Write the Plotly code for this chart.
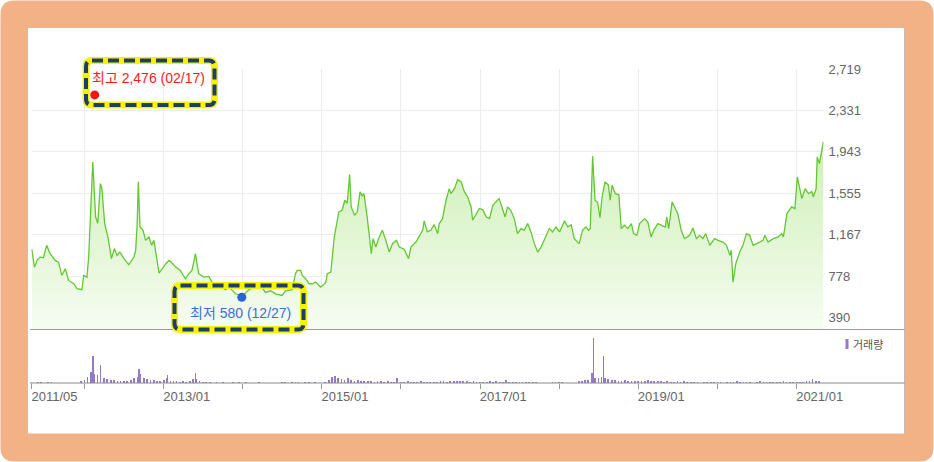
import plotly.graph_objects as go
import pandas as pd

W, H = 934, 462

# ---------------- data ----------------
price_dates = [
    "2011-05-02", "2011-05-15", "2011-05-28", "2011-06-10", "2011-06-25", "2011-07-10", "2011-07-25",
    "2011-08-18", "2011-09-03", "2011-09-18", "2011-10-04", "2011-10-19", "2011-11-12", "2011-11-27",
    "2011-12-20", "2011-12-28", "2012-01-12", "2012-01-20", "2012-02-08", "2012-02-21", "2012-03-02",
    "2012-03-14", "2012-03-21", "2012-04-03", "2012-04-18", "2012-05-04", "2012-05-18", "2012-05-30",
    "2012-06-12", "2012-07-01", "2012-07-23", "2012-08-16", "2012-08-24", "2012-08-31", "2012-09-05",
    "2012-09-13", "2012-09-27", "2012-10-09", "2012-10-24", "2012-11-06", "2012-11-16", "2012-11-24",
    "2012-12-10", "2013-01-10", "2013-01-25", "2013-02-08", "2013-02-25", "2013-03-18", "2013-04-11",
    "2013-04-26", "2013-05-11", "2013-05-27", "2013-06-11", "2013-07-04", "2013-07-27", "2013-08-12",
    "2013-09-12", "2013-10-13", "2013-10-28", "2013-11-13", "2013-11-28", "2013-12-21", "2013-12-28",
    "2014-01-29", "2014-02-14", "2014-03-05", "2014-03-30", "2014-04-15", "2014-05-10", "2014-06-01",
    "2014-07-01", "2014-07-17", "2014-08-16", "2014-09-01", "2014-09-09", "2014-09-25", "2014-10-02",
    "2014-10-18", "2014-11-03", "2014-11-18", "2014-12-03", "2014-12-19", "2014-12-26", "2015-01-11",
    "2015-01-19", "2015-01-26", "2015-02-11", "2015-02-27", "2015-03-20", "2015-04-04", "2015-04-17",
    "2015-04-28", "2015-05-09", "2015-05-16", "2015-06-01", "2015-06-13", "2015-06-26", "2015-07-06",
    "2015-07-14", "2015-07-29", "2015-08-06", "2015-08-17", "2015-08-25", "2015-09-07", "2015-09-19",
    "2015-10-07", "2015-10-23", "2015-11-08", "2015-11-23", "2015-12-11", "2015-12-24", "2016-01-16",
    "2016-02-05", "2016-02-16", "2016-03-10", "2016-03-25", "2016-04-10", "2016-04-17", "2016-05-02",
    "2016-05-18", "2016-06-02", "2016-06-18", "2016-06-26", "2016-07-11", "2016-07-27", "2016-08-11",
    "2016-08-19", "2016-09-04", "2016-09-19", "2016-10-05", "2016-10-20", "2016-11-04", "2016-11-20",
    "2016-11-27", "2016-12-13", "2016-12-28", "2017-01-13", "2017-01-29", "2017-02-13", "2017-02-28",
    "2017-03-14", "2017-03-29", "2017-04-11", "2017-04-26", "2017-05-07", "2017-05-22", "2017-06-07",
    "2017-06-22", "2017-07-08", "2017-07-23", "2017-08-08", "2017-08-23", "2017-09-08", "2017-09-23",
    "2017-10-09", "2017-11-01", "2017-11-16", "2017-12-01", "2017-12-17", "2018-01-02", "2018-01-25",
    "2018-02-09", "2018-02-25", "2018-03-11", "2018-04-03", "2018-04-18", "2018-05-04", "2018-05-16",
    "2018-05-24", "2018-06-04", "2018-06-15", "2018-06-27", "2018-07-08", "2018-07-17", "2018-07-31",
    "2018-08-16", "2018-08-24", "2018-09-02", "2018-09-17", "2018-10-03", "2018-10-14", "2018-10-29",
    "2018-11-14", "2018-11-30", "2018-12-10", "2018-12-25", "2019-01-07", "2019-01-30", "2019-02-14",
    "2019-03-01", "2019-03-13", "2019-04-01", "2019-04-16", "2019-05-06", "2019-05-12", "2019-05-21",
    "2019-06-06", "2019-06-25", "2019-07-02", "2019-07-18", "2019-08-02", "2019-08-26", "2019-09-10",
    "2019-09-26", "2019-10-11", "2019-10-26", "2019-11-08", "2019-11-27", "2019-12-19", "2020-01-04",
    "2020-01-27", "2020-02-12", "2020-02-28", "2020-03-05", "2020-03-13", "2020-03-26", "2020-04-13",
    "2020-04-28", "2020-05-14", "2020-05-29", "2020-06-14", "2020-06-30", "2020-07-15", "2020-07-30",
    "2020-08-07", "2020-08-22", "2020-09-15", "2020-10-08", "2020-10-24", "2020-11-01", "2020-11-17",
    "2020-12-09", "2020-12-24", "2021-01-04", "2021-01-25", "2021-02-09", "2021-02-25", "2021-03-12",
    "2021-03-19", "2021-04-01", "2021-04-06", "2021-04-16", "2021-05-04",
]
price_values = [
    1030, 862, 930, 956, 950, 1066, 991,
    925, 909, 784, 847, 737, 706, 660,
    650, 784, 768, 956, 1848, 1332, 1273,
    1645, 1598, 1270, 1144, 941, 1035, 972,
    1003, 941, 885, 956, 1019, 1270, 1661,
    1238, 1207, 1113, 1144, 1066, 1113, 1019,
    806, 894, 925, 900, 862, 831, 753,
    800, 831, 988, 800, 768, 775, 721,
    690, 650, 675, 644, 612, 596, 590,
    650, 670, 690, 675, 625, 640, 612,
    596, 640, 650, 800, 831, 831, 784,
    753, 706, 706, 721, 690, 675, 700,
    721, 800, 816, 1144, 1380, 1395, 1489,
    1460, 1730, 1426, 1348, 1380, 1567, 1530,
    1551, 1332, 1207, 988, 1129, 1050, 1129,
    1207, 1113, 1003, 1082, 1113, 1050, 1030,
    941, 1050, 1097, 1151, 1207, 1295, 1192,
    1207, 1261, 1176, 1270, 1317, 1489, 1598,
    1550, 1598, 1683, 1660, 1567, 1520, 1426,
    1301, 1364, 1411, 1400, 1332, 1317, 1442,
    1473, 1504, 1426, 1332, 1426, 1395, 1317,
    1176, 1223, 1207, 1270, 1192, 1082, 1003,
    1050, 1160, 1223, 1192, 1238, 1192, 1295,
    1240, 1260, 1129, 1082, 1207, 1238, 1207,
    1225, 1902, 1489, 1470, 1326, 1510, 1661,
    1630, 1489, 1630, 1551, 1540, 1223, 1255,
    1223, 1270, 1176, 1160, 1270, 1317, 1285,
    1144, 1207, 1270, 1255, 1238, 1332, 1223,
    1473, 1395, 1364, 1207, 1129, 1160, 1229,
    1129, 1160, 1129, 1176, 1066, 1129, 1113,
    1097, 1066, 972, 1020, 721, 894, 1003,
    1066, 1176, 1160, 1066, 1082, 1097, 1113,
    1160, 1097, 1129, 1145, 1176, 1145, 1364,
    1426, 1410, 1707, 1504, 1598, 1550, 1570,
    1520, 1598, 1894, 1833, 2036,
]

# trading volume, semi-monthly (1st / 15th) from 2011/05 to 2021/04 (relative units)
vol_start = "2011-05-01"
vol_values = [
    1, 0, 1, 1, 0, 1, 1, 0, 0, 0, 0, 0, 0, 0, 0, 2,                                   # 2011 May-Dec
    3, 6, 11, 9, 8, 10, 5, 4, 3, 3, 2, 2, 2, 2, 3, 5, 6, 9, 5, 4, 3, 3, 2, 2,         # 2012
    3, 5, 2, 2, 2, 1, 2, 1, 2, 4, 4, 2, 1, 1, 1, 0, 1, 0, 1, 0, 0, 1, 0, 1,           # 2013
    0, 1, 0, 0, 0, 1, 0, 0, 0, 0, 0, 0, 1, 1, 0, 1, 1, 1, 0, 1, 1, 0, 1, 0,           # 2014
    0, 1, 3, 6, 7, 5, 4, 3, 5, 3, 2, 3, 2, 2, 2, 2, 1, 2, 2, 1, 2, 1, 1, 5,           # 2015
    1, 1, 2, 1, 1, 1, 2, 1, 1, 1, 1, 1, 2, 2, 1, 2, 2, 2, 2, 2, 2, 1, 2, 1,           # 2016
    1, 1, 1, 2, 1, 2, 1, 1, 3, 1, 1, 1, 1, 1, 1, 1, 1, 1, 0, 0, 0, 0, 1, 1,           # 2017
    1, 1, 0, 0, 0, 0, 2, 2, 3, 3, 10, 5, 5, 6, 5, 4, 3, 3, 2, 2, 3, 2, 2, 2,          # 2018
    2, 2, 2, 3, 2, 2, 2, 2, 1, 2, 1, 1, 2, 1, 2, 1, 1, 1, 1, 0, 1, 1, 1, 1,           # 2019
    1, 1, 0, 1, 1, 1, 2, 1, 1, 1, 1, 0, 1, 2, 1, 1, 1, 1, 1, 1, 2, 1, 1, 1,           # 2020
    1, 1, 1, 2, 2, 4, 2, 2,                                                           # 2021 Jan-Apr
]
spike_dates = ["2012-02-09", "2012-03-14", "2012-09-08", "2013-01-17", "2013-05-27", "2018-06-08", "2018-07-23"]
spike_values = [27, 18, 14, 8, 10, 45, 27]

y_tickvals = [390, 778, 1167, 1555, 1943, 2331, 2719]
y_ticktext = ["390", "778", "1,167", "1,555", "1,943", "2,331", "2,719"]
x_tickvals = ["2011-05-01", "2012-01-01", "2013-01-01", "2014-01-01", "2015-01-01", "2016-01-01",
              "2017-01-01", "2018-01-01", "2019-01-01", "2020-01-01", "2021-01-01"]
x_ticktext = ["2011/05", "", "2013/01", "", "2015/01", "", "2017/01", "", "2019/01", "", "2021/01"]

hi_date, hi_value, hi_label = "2012-02-17", 2476, "최고 2,476 (02/17)"
lo_date, lo_value, lo_label = "2013-12-27", 580, "최저 580 (12/27)"
vol_label = "거래량"

vol_dates = pd.date_range(vol_start, periods=len(vol_values), freq="SMS")

# ---------------- helpers (pixel -> paper) ----------------
def px(x):
    return x / W

def py(y):
    return 1 - y / H

def rpath(x0, y0, x1, y1, r):
    return (f"M {px(x0 + r)},{py(y0)} L {px(x1 - r)},{py(y0)} "
            f"Q {px(x1)},{py(y0)} {px(x1)},{py(y0 + r)} L {px(x1)},{py(y1 - r)} "
            f"Q {px(x1)},{py(y1)} {px(x1 - r)},{py(y1)} L {px(x0 + r)},{py(y1)} "
            f"Q {px(x0)},{py(y1)} {px(x0)},{py(y1 - r)} L {px(x0)},{py(y0 + r)} "
            f"Q {px(x0)},{py(y0)} {px(x0 + r)},{py(y0)} Z")

NUM_FONT = "Liberation Sans, Arial, Noto Sans CJK KR, sans-serif"
KR_FONT = "Noto Sans CJK KR, Liberation Sans, sans-serif"
GREEN = "#62c832"
PURPLE = "#9479c9"
GRID = "#ececec"

fig = go.Figure()

fig.add_trace(go.Scatter(
    x=price_dates, y=price_values, mode="lines",
    line=dict(color=GREEN, width=1.3),
    fill="tozeroy",
    fillgradient=dict(type="vertical", start=278, stop=2040,
                      colorscale=[[0, "#f6fcf2"], [1, "#cdefb4"]]),
    xaxis="x", yaxis="y", hoverinfo="skip", showlegend=False,
))
fig.add_trace(go.Scatter(
    x=[hi_date], y=[hi_value], mode="markers",
    marker=dict(color="#ff1414", size=9), xaxis="x", yaxis="y", showlegend=False,
))
fig.add_trace(go.Scatter(
    x=[lo_date], y=[lo_value], mode="markers",
    marker=dict(color="#2a62d9", size=9), xaxis="x", yaxis="y", showlegend=False,
))
fig.add_trace(go.Bar(
    x=vol_dates, y=vol_values, width=8 * 86400000,
    marker=dict(color=PURPLE, line=dict(width=0)),
    xaxis="x2", yaxis="y2", showlegend=False,
))
fig.add_trace(go.Bar(
    x=spike_dates, y=spike_values, width=6 * 86400000,
    marker=dict(color=PURPLE, line=dict(width=0)),
    xaxis="x2", yaxis="y2", showlegend=False,
))

x_dom = [px(31.5), px(823.5)]
x_range = ["2011-05-01", "2021-05-05"]

shapes = [
    dict(type="path", xref="paper", yref="paper", layer="below",
         path=rpath(0.5, 0.5, 933.5, 461.5, 14), fillcolor="#f3b285", line=dict(width=0)),
    dict(type="rect", xref="paper", yref="paper", layer="below",
         x0=px(28), x1=px(905), y0=py(28), y1=py(433.5), fillcolor="white", line=dict(width=0)),
    dict(type="line", xref="paper", yref="paper", layer="above",
         x0=px(904.5), x1=px(904.5), y0=py(28), y1=py(433.5), line=dict(color="#bdbdbd", width=1)),
    dict(type="line", xref="paper", yref="paper", layer="above",
         x0=px(30), x1=px(904.5), y0=py(329.5), y1=py(329.5), line=dict(color="#9a9a9a", width=1)),
    dict(type="rect", xref="paper", yref="paper", layer="above",
         x0=px(845.5), x1=px(848.5), y0=py(339), y1=py(349), fillcolor=PURPLE, line=dict(width=0)),
]
for (bx0, by0, bx1, by1) in [(86, 60.5, 214.5, 105), (174.5, 285.5, 303.5, 329.5)]:
    shapes.append(dict(type="path", xref="paper", yref="paper", layer="above",
                       path=rpath(bx0, by0, bx1, by1, 6), line=dict(color="#f7f300", width=7)))
    shapes.append(dict(type="path", xref="paper", yref="paper", layer="above",
                       path=rpath(bx0, by0, bx1, by1, 6), line=dict(color="#1d3d6b", width=4, dash="11px,5px")))

annotations = [
    dict(x=hi_date, y=hi_value, xref="x", yref="y", text=hi_label, showarrow=False,
         xanchor="left", yanchor="middle", xshift=-5, yshift=17,
         font=dict(family=NUM_FONT, size=14, color="#ff1a1a")),
    dict(x=lo_date, y=lo_value, xref="x", yref="y", text=lo_label, showarrow=False,
         xanchor="center", yanchor="middle", xshift=-1, yshift=-16,
         font=dict(family=NUM_FONT, size=14, color="#3a6fd6")),
    dict(x=px(850.5), y=py(344), xref="paper", yref="paper", text=vol_label, showarrow=False,
         xanchor="left", yanchor="middle",
         font=dict(family=KR_FONT, size=11, color="#555555")),
]

fig.update_layout(
    width=W, height=H, margin=dict(l=0, r=0, t=0, b=0, pad=0, autoexpand=False),
    paper_bgcolor="white", plot_bgcolor="rgba(0,0,0,0)",
    barmode="overlay", bargap=0,
    showlegend=False,
    shapes=shapes, annotations=annotations,
    xaxis=dict(domain=x_dom, range=x_range, type="date", anchor="y", automargin=False,
               tickvals=x_tickvals, showticklabels=False, ticks="",
               showgrid=True, gridcolor=GRID, gridwidth=1, zeroline=False, showline=False),
    yaxis=dict(domain=[py(329.5), py(69)], range=[277.3, 2719], anchor="x", side="right",
               automargin=False,
               tickvals=y_tickvals, ticktext=y_ticktext, ticks="", ticklabelstandoff=4,
               showgrid=True, gridcolor=GRID, gridwidth=1, zeroline=False, showline=False,
               tickfont=dict(family=NUM_FONT, size=13, color="#666666")),
    xaxis2=dict(domain=x_dom, range=x_range, type="date", anchor="y2", matches="x",
                automargin=False,
                tickvals=x_tickvals, ticktext=x_ticktext, ticks="outside", ticklen=5,
                tickcolor="#9a9a9a", ticklabelshift=23, ticklabelstandoff=-4,
                showgrid=False, zeroline=False, showline=False,
                tickfont=dict(family=NUM_FONT, size=13, color="#666666")),
    yaxis2=dict(domain=[py(383), py(335)], range=[0, 48], anchor="x2", automargin=False,
                showticklabels=False, showgrid=False, zeroline=False, ticks=""),
)
# volume baseline across full width
fig.add_shape(type="line", xref="paper", yref="paper", layer="above",
              x0=px(30), x1=px(904.5), y0=py(383), y1=py(383), line=dict(color="#8a8a8a", width=1))

fig.write_html(
    "out.html",
    config={"displayModeBar": False, "staticPlot": True},
    post_script=("document.body.style.margin='0';document.body.style.padding='0';"
                 "var gd=document.getElementById('{plot_id}');"
                 "gd.style.position='absolute';gd.style.left='0px';gd.style.top='0px';"),
)
